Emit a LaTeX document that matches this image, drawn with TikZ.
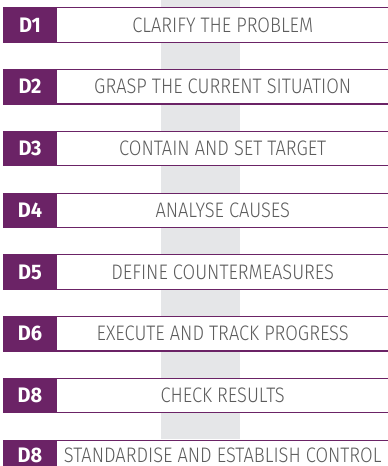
\documentclass[tikz,border=0pt]{standalone}
\usepackage{fontspec}
\setmainfont{Fira Sans}
\newfontfamily\stepfont{Fira Sans Light}[FakeStretch=0.87]
\newfontfamily\tagfont{Fira Sans}[FakeStretch=0.95]
\definecolor{plum}{HTML}{6B2366}
\definecolor{band}{HTML}{E5E6E8}
\definecolor{inkgray}{HTML}{5C5C5C}
\tikzset{
  tagbox/.style={fill=plum, text=white, minimum width=54pt, minimum height=34pt,
    inner sep=0pt, text height=14.5pt,
    font=\tagfont\bfseries\fontsize{21pt}{21pt}\selectfont},
  stepbar/.style={fill=white, text=inkgray, minimum width=331pt, minimum height=34pt,
    inner sep=0pt, anchor=west, text height=14.5pt,
    font=\stepfont\fontsize{21pt}{21pt}\selectfont},
  topline/.style={draw=plum, line width=0.9pt},
  baseline/.style={draw=plum, line width=1.3pt}
}
\begin{document}
\begin{tikzpicture}[x=1pt,y=1pt]
  \useasboundingbox (0,0) rectangle (388,466);
  \clip (0,0) rectangle (388,466);
  % vertical guide band behind the steps
  \fill[band] (161,27) rectangle (240,466);
  \foreach \n/\lab/\txt in {
      1/D1/CLARIFY THE PROBLEM,
      2/D2/GRASP THE CURRENT SITUATION,
      3/D3/CONTAIN AND SET TARGET,
      4/D4/ANALYSE CAUSES,
      5/D5/DEFINE COUNTERMEASURES,
      6/D6/EXECUTE AND TRACK PROGRESS,
      7/D8/CHECK RESULTS,
      8/D8/STANDARDISE AND ESTABLISH CONTROL} {
    \pgfmathsetmacro{\yc}{466-(25+61.75*(\n-1))}
    % the last bar runs past the lower edge, so its text sits a little higher
    \pgfmathsetmacro{\dep}{ifthenelse(\n==8,5,0)}
    \node[stepbar, text depth=\dep pt] (t\n) at (57,\yc) {\txt};
    \node[tagbox, text depth=\dep pt] (d\n) at (30,\yc) {\lab};
    \draw[topline] (d\n.north west) -- (t\n.north east);
    \draw[baseline] (d\n.south west) -- (t\n.south east);
  }
\end{tikzpicture}
\end{document}
